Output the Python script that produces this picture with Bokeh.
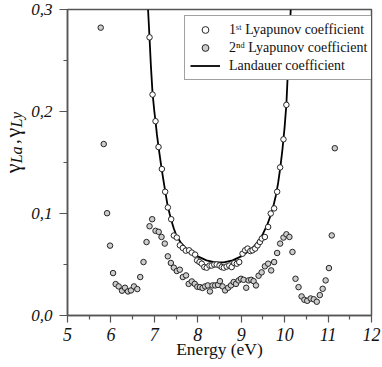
import math
from bokeh.plotting import figure
from bokeh.layouts import row
from bokeh.models import Range1d, FixedTicker, Legend, LegendItem
from bokeh.core.properties import value
from bokeh.embed import file_html
from bokeh.resources import INLINE

# ---------------- data ----------------
lyap1_energy = [6.889, 6.958, 7.027, 7.096, 7.173, 7.249, 7.311, 7.387, 7.448, 7.517,
                7.587, 7.655, 7.724, 7.800, 7.862, 7.938, 7.984, 8.04, 8.09, 8.15,
                8.206, 8.27, 8.32, 8.38, 8.435, 8.50, 8.55, 8.60, 8.665, 8.725,
                8.78, 8.84, 8.90, 8.955, 9.03, 9.09, 9.147, 9.21, 9.26, 9.32,
                9.377, 9.43, 9.475, 9.545, 9.62, 9.68, 9.758, 9.827, 9.896, 9.973,
                10.04]
lyap1_gamma = [0.2727, 0.2166, 0.1905, 0.1652, 0.1436, 0.1213, 0.1059, 0.0944, 0.0784, 0.0764,
               0.0688, 0.0662, 0.0636, 0.0639, 0.0617, 0.0597, 0.0540, 0.0524, 0.0508, 0.0475,
               0.0469, 0.0490, 0.0490, 0.0500, 0.0500, 0.0490, 0.0475, 0.0469, 0.0480, 0.0490,
               0.0475, 0.0514, 0.0508, 0.0524, 0.0606, 0.0639, 0.0656, 0.0632, 0.0639, 0.0656,
               0.0688, 0.0721, 0.0754, 0.0770, 0.0868, 0.1000, 0.1050, 0.1213, 0.1452, 0.1727,
               0.2065]

lyap2_energy = [5.765, 5.834, 5.911, 5.98, 6.049, 6.109, 6.178, 6.255, 6.324, 6.393,
                6.462, 6.53, 6.607, 6.675, 6.75, 6.82, 6.889, 6.95, 7.027, 7.10,
                7.165, 7.24, 7.31, 7.38, 7.448, 7.517, 7.586, 7.655, 7.73, 7.79,
                7.862, 7.93, 7.99, 8.05, 8.11, 8.17, 8.23, 8.28, 8.34, 8.40,
                8.466, 8.51, 8.57, 8.63, 8.70, 8.764, 8.826, 8.88, 8.94, 8.994,
                9.055, 9.115, 9.17, 9.23, 9.285, 9.34, 9.40, 9.47, 9.545, 9.62,
                9.69, 9.758, 9.827, 9.896, 9.973, 10.04, 10.11, 10.18, 10.25, 10.32,
                10.39, 10.455, 10.52, 10.60, 10.67, 10.74, 10.81, 10.876, 10.944, 11.02,
                11.085, 11.155]
lyap2_gamma = [0.2822, 0.1681, 0.1003, 0.0685, 0.0416, 0.0308, 0.0285, 0.0243, 0.0272, 0.0236,
               0.0246, 0.0285, 0.0259, 0.0377, 0.0524, 0.0720, 0.0875, 0.0944, 0.0830, 0.0820,
               0.0770, 0.0705, 0.0580, 0.0515, 0.0469, 0.0436, 0.0449, 0.0377, 0.0393, 0.0310,
               0.0334, 0.0310, 0.0282, 0.0278, 0.0270, 0.0285, 0.0295, 0.0236, 0.0295, 0.0295,
               0.0300, 0.0337, 0.0285, 0.0246, 0.0272, 0.0295, 0.0328, 0.0310, 0.0344, 0.0360,
               0.0350, 0.0272, 0.0344, 0.0350, 0.0337, 0.0295, 0.0390, 0.0423, 0.0482, 0.0508,
               0.0442, 0.0524, 0.0613, 0.0705, 0.0764, 0.0796, 0.0770, 0.0623, 0.0360, 0.0278,
               0.0187, 0.0154, 0.0144, 0.0167, 0.0159, 0.0135, 0.0200, 0.0262, 0.0344, 0.0465,
               0.0785, 0.1640]

landauer_energy = [6.855, 6.889, 6.92, 6.958, 7.00, 7.03, 7.06, 7.10, 7.15, 7.20,
                   7.25, 7.30, 7.35, 7.40, 7.45, 7.50, 7.60, 7.70, 7.80, 7.90,
                   8.00, 8.10, 8.20, 8.30, 8.40, 8.50, 8.60, 8.70, 8.80, 8.90,
                   9.00, 9.10, 9.20, 9.30, 9.40, 9.50, 9.60, 9.70, 9.75, 9.80,
                   9.85, 9.90, 9.95, 10.00, 10.04, 10.07, 10.10, 10.14]
landauer_gamma = [0.300, 0.272, 0.245, 0.218, 0.200, 0.189, 0.177, 0.164, 0.149, 0.135,
                  0.122, 0.109, 0.100, 0.092, 0.085, 0.079, 0.072, 0.067, 0.063, 0.060,
                  0.058, 0.056, 0.054, 0.053, 0.052, 0.052, 0.052, 0.053, 0.054, 0.056,
                  0.058, 0.061, 0.064, 0.068, 0.073, 0.080, 0.089, 0.101, 0.109, 0.118,
                  0.130, 0.145, 0.163, 0.185, 0.207, 0.235, 0.262, 0.300]

x_ticks = [5, 6, 7, 8, 9, 10, 11, 12]
x_minor_ticks = [5.5, 6.5, 7.5, 8.5, 9.5, 10.5, 11.5]
y_ticks = [0.0, 0.1, 0.2, 0.3]
y_minor_ticks = [0.05, 0.15, 0.25]
y_tick_labels = ["0,0", "0,1", "0,2", "0,3"]
legend_labels = ["1\u02e2\u1d57 Lyapunov coefficient",
                 "2\u207f\u1d48 Lyapunov coefficient",
                 "Landauer coefficient"]
x_title = "Energy (eV)"
# y title pieces: gamma_La , gamma_Ly
y_title_text = ["\u03b3", "La", ",", "\u03b3", "Ly"]

SERIF = "Liberation Serif"
AXC = "#555555"
W_LAB, W_MAIN, H = 28, 354, 366

# ---------------- main plot ----------------
p = figure(width=W_MAIN, height=H, output_backend="svg", toolbar_location=None,
           x_range=Range1d(5, 12), y_range=Range1d(0, 0.3),
           min_border_left=38, min_border_right=11, min_border_top=9, min_border_bottom=51)
p.background_fill_color = "white"
p.border_fill_color = "white"
p.outline_line_color = AXC
p.outline_line_width = 1.5
p.grid.visible = False

p.xaxis.ticker = FixedTicker(ticks=x_ticks, minor_ticks=x_minor_ticks)
p.yaxis.ticker = FixedTicker(ticks=y_ticks, minor_ticks=y_minor_ticks)
p.yaxis.major_label_overrides = {t: s for t, s in zip(y_ticks, y_tick_labels)}

for ax in (p.xaxis[0], p.yaxis[0]):
    ax.axis_line_color = AXC
    ax.axis_line_width = 1.5
    ax.major_tick_line_color = AXC
    ax.minor_tick_line_color = AXC
    ax.major_tick_line_width = 1.2
    ax.minor_tick_line_width = 1.2
    ax.major_tick_in = 0
    ax.minor_tick_in = 0
    ax.minor_tick_out = 4
    ax.major_label_text_font = SERIF
    ax.major_label_text_font_style = "italic"
    ax.major_label_text_color = "#111111"

p.xaxis.major_tick_out = 7
p.xaxis.major_label_standoff = 5
p.xaxis.major_label_text_font_size = "18px"
p.xaxis.axis_label = x_title
p.xaxis.axis_label_text_font = SERIF
p.xaxis.axis_label_text_font_style = "normal"
p.xaxis.axis_label_text_font_size = "17.5px"
p.xaxis.axis_label_text_color = "#111111"
p.xaxis.axis_label_standoff = -5

p.yaxis.major_tick_out = 8
p.yaxis.major_label_standoff = 7
p.yaxis.major_label_text_font_size = "17px"

r_land = p.line(landauer_energy, landauer_gamma, line_color="black", line_width=1.8)
r1 = p.scatter(lyap1_energy, lyap1_gamma, marker="circle", size=5.5,
               fill_color="white", line_color="#262626", line_width=1.0)
r2 = p.scatter(lyap2_energy, lyap2_gamma, marker="circle", size=5.5,
               fill_color="#cccccc", line_color="#262626", line_width=1.0)

legend = Legend(items=[LegendItem(label=legend_labels[0], renderers=[r1]),
                       LegendItem(label=legend_labels[1], renderers=[r2]),
                       LegendItem(label=legend_labels[2], renderers=[r_land])],
                location=(117, 235))
legend.padding = 5
legend.spacing = 1
legend.glyph_width = 30
legend.glyph_height = 17
legend.label_height = 17
legend.label_standoff = 9
legend.label_text_font = SERIF
legend.label_text_font_size = "14px"
legend.label_text_color = "#111111"
legend.border_line_color = "#444444"
legend.border_line_width = 1
legend.background_fill_color = "white"
legend.background_fill_alpha = 1.0
p.add_layout(legend)

# ---------------- y title strip (rotated text with subscripts) ----------------
lab = figure(width=W_LAB, height=H, output_backend="svg", toolbar_location=None,
             x_range=Range1d(0, W_LAB), y_range=Range1d(0, H),
             x_axis_type=None, y_axis_type=None, min_border=0,
             min_border_left=0, min_border_right=0, min_border_top=0, min_border_bottom=0)
lab.outline_line_color = None
lab.grid.visible = False
lab.background_fill_color = "white"
lab.border_fill_color = "white"

# pixel anchors in the strip (x = baseline, y = start of each piece, measured upward)
piece_x = [12, 16, 12, 12, 16]
piece_y = [H - 196, H - 184, H - 161, H - 153, H - 141]
piece_size = ["22px", "16px", "19px", "22px", "16px"]
piece_style = ["normal", "italic", "normal", "normal", "italic"]
for i in range(len(y_title_text)):
    lab.text(x=[piece_x[i]], y=[piece_y[i]], text=[y_title_text[i]], angle=math.pi / 2,
             text_align="left", text_baseline="alphabetic", text_font=value(SERIF),
             text_font_size=value(piece_size[i]), text_font_style=piece_style[i],
             text_color="#111111")

layout = row(lab, p)
open("out.html", "w").write(file_html(layout, INLINE))
